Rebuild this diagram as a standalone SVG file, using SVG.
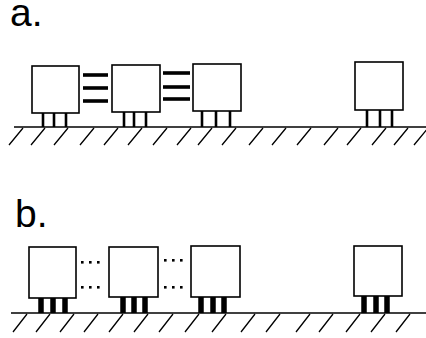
<svg xmlns="http://www.w3.org/2000/svg" width="426" height="338" viewBox="0 0 426 338">
  <style>
    .label { font-family: "Liberation Sans", Arial, sans-serif; font-size: 39px; fill: #000; }
    .box { fill: #fff; stroke: #000; stroke-width: 1.6; }
    .leg-thin { stroke: #000; stroke-width: 2.6; }
    .leg-thick { stroke: #000; stroke-width: 5.5; }
    .ground { stroke: #000; stroke-width: 1.6; fill: none; }
    .hatch { stroke: #000; stroke-width: 1.3; fill: none; }
    .bar { stroke: #000; stroke-width: 3.6; }
    .dot { fill: #000; }
  </style>

  <!-- panel labels -->
  <text class="label" x="10" y="26">a.</text>
  <text class="label" x="15" y="227">b.</text>

  <!-- panel a: ground surface -->
  <line class="ground" x1="14" y1="127" x2="426" y2="127"/>
  <path class="hatch" d="M23,128 l-14,17 M45,128 l-14,17 M68,128 l-14,17 M94,128 l-14,17 M118,128 l-14,17 M142,128 l-14,17 M167,128 l-14,17 M191,128 l-14,17 M212,128 l-14,17 M236,128 l-14,17 M263,128 l-14,17 M286,128 l-14,17 M311,128 l-14,17 M338,128 l-14,17 M361,128 l-14,17 M386,128 l-14,17 M408,128 l-14,17 M428,128 l-14,17"/>

  <!-- panel b: ground surface -->
  <line class="ground" x1="11" y1="313" x2="426" y2="313"/>
  <path class="hatch" d="M27,314 l-14,18 M50,314 l-14,18 M74,314 l-14,18 M98,314 l-14,18 M123,314 l-14,18 M148,314 l-14,18 M173,314 l-14,18 M199,314 l-14,18 M226,314 l-14,18 M255,314 l-14,18 M280,314 l-14,18 M310,314 l-14,18 M333,314 l-14,18 M360,314 l-14,18 M385,314 l-14,18 M410,314 l-14,18"/>

  <!-- panel a: connectors (solid bars) -->
  <g id="connectors-a">
    <line class="bar" x1="83" y1="75" x2="108" y2="75"/>
    <line class="bar" x1="83" y1="88" x2="108" y2="88"/>
    <line class="bar" x1="83" y1="101" x2="108" y2="101"/>
    <line class="bar" x1="163" y1="73" x2="190" y2="73"/>
    <line class="bar" x1="163" y1="87" x2="190" y2="87"/>
    <line class="bar" x1="163" y1="99" x2="190" y2="99"/>
  </g>

  <!-- panel b: connectors (dotted) -->
  <g id="connectors-b">
    <rect class="dot" x="81" y="261" width="2.6" height="2.6"/>
    <rect class="dot" x="89" y="261" width="2.6" height="2.6"/>
    <rect class="dot" x="97" y="261" width="2.6" height="2.6"/>
    <rect class="dot" x="81" y="286" width="2.6" height="2.6"/>
    <rect class="dot" x="89" y="286" width="2.6" height="2.6"/>
    <rect class="dot" x="97" y="286" width="2.6" height="2.6"/>
    <rect class="dot" x="164" y="259" width="2.6" height="2.6"/>
    <rect class="dot" x="172" y="259" width="2.6" height="2.6"/>
    <rect class="dot" x="180" y="259" width="2.6" height="2.6"/>
    <rect class="dot" x="164" y="286" width="2.6" height="2.6"/>
    <rect class="dot" x="172" y="286" width="2.6" height="2.6"/>
    <rect class="dot" x="180" y="286" width="2.6" height="2.6"/>
  </g>

  <!-- panel a: cells -->
  <g id="cell-a1">
    <line class="leg-thin" x1="43" y1="112" x2="43" y2="127"/>
    <line class="leg-thin" x1="54" y1="112" x2="54" y2="127"/>
    <line class="leg-thin" x1="66" y1="112" x2="66" y2="127"/>
    <rect class="box" x="32" y="66" width="47" height="47"/>
  </g>
  <g id="cell-a2">
    <line class="leg-thin" x1="124" y1="111" x2="124" y2="127"/>
    <line class="leg-thin" x1="134" y1="111" x2="134" y2="127"/>
    <line class="leg-thin" x1="146" y1="111" x2="146" y2="127"/>
    <rect class="box" x="112" y="65" width="48" height="47"/>
  </g>
  <g id="cell-a3">
    <line class="leg-thin" x1="202" y1="110" x2="202" y2="127"/>
    <line class="leg-thin" x1="216" y1="110" x2="216" y2="127"/>
    <line class="leg-thin" x1="230" y1="110" x2="230" y2="127"/>
    <rect class="box" x="193" y="64" width="48" height="47"/>
  </g>
  <g id="cell-a4">
    <line class="leg-thin" x1="367" y1="109" x2="367" y2="127"/>
    <line class="leg-thin" x1="380" y1="109" x2="380" y2="127"/>
    <line class="leg-thin" x1="392" y1="109" x2="392" y2="127"/>
    <rect class="box" x="355" y="62" width="48" height="48"/>
  </g>

  <!-- panel b: cells -->
  <g id="cell-b1">
    <line class="leg-thick" x1="41" y1="297" x2="41" y2="313"/>
    <line class="leg-thick" x1="53" y1="297" x2="53" y2="313"/>
    <line class="leg-thick" x1="65" y1="297" x2="65" y2="313"/>
    <rect class="box" x="29" y="247" width="47" height="51"/>
  </g>
  <g id="cell-b2">
    <line class="leg-thick" x1="123" y1="296" x2="123" y2="313"/>
    <line class="leg-thick" x1="134" y1="296" x2="134" y2="313"/>
    <line class="leg-thick" x1="145" y1="296" x2="145" y2="313"/>
    <rect class="box" x="109" y="247" width="49" height="50"/>
  </g>
  <g id="cell-b3">
    <line class="leg-thick" x1="201" y1="296" x2="201" y2="313"/>
    <line class="leg-thick" x1="213" y1="296" x2="213" y2="313"/>
    <line class="leg-thick" x1="224" y1="296" x2="224" y2="313"/>
    <rect class="box" x="191" y="246" width="49" height="51"/>
  </g>
  <g id="cell-b4">
    <line class="leg-thick" x1="364" y1="295" x2="364" y2="313"/>
    <line class="leg-thick" x1="376" y1="295" x2="376" y2="313"/>
    <line class="leg-thick" x1="387" y1="295" x2="387" y2="313"/>
    <rect class="box" x="354" y="246" width="48" height="50"/>
  </g>
</svg>
